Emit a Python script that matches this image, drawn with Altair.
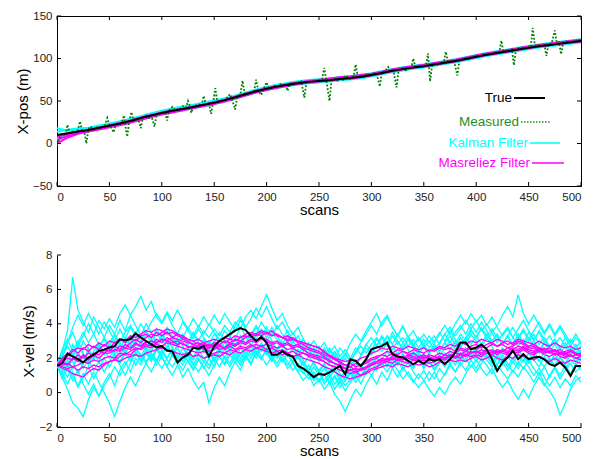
import altair as alt
import pandas as pd

# ---------------------------------------------------------------- data
SCAN5 = list(range(0, 501, 5))
SCAN10 = list(range(0, 501, 10))

# x-position (m), sampled every 10 scans
true_pos = [10, 12, 14, 16, 18.5, 21, 23.5, 26.5, 30, 33,
            36, 38.5, 40.5, 43, 45.5, 48, 51, 54.5, 58, 61.5,
            64.5, 67, 69, 71, 72.5, 73.5, 74.5, 76, 77, 78.5,
            80.5, 83, 85.5, 87.5, 89.5, 91, 93, 95, 97, 99.5,
            102, 104.5, 106.5, 108.5, 110.5, 112.5, 114.5, 116, 117.5, 119,
            120.5]

kalman_pos = [
    [18, 15, 16.5, 18, 20, 22, 25, 28, 31, 34.5,
     37.5, 40, 42, 44.5, 47, 49.5, 52, 55.5, 59, 62.5,
     65.5, 68, 70.5, 72, 73.5, 75, 76, 77, 78, 79.5,
     81.5, 84, 86.5, 89, 90.5, 92, 94, 96, 98, 100.5,
     103, 105.5, 108, 110, 111.5, 113.5, 115.5, 117.5, 118.5, 120,
     121.5],
    [6, 10.5, 13, 14.5, 17, 19.5, 22, 25, 28.5, 31.5,
     34.5, 37, 39, 41.5, 44, 46.5, 49.5, 53, 56.5, 60,
     63, 65.5, 67.5, 69.5, 71, 72, 73, 74.5, 75.5, 77,
     79, 81.5, 84, 86, 88, 89.5, 91.5, 93.5, 95.5, 98,
     100.5, 103, 105, 107, 109, 111, 113, 114.5, 116, 117.5,
     119],
    [14, 16, 17.5, 18.5, 21, 23.5, 26, 29, 32, 35.5,
     38.5, 41, 43.5, 45.5, 48, 50.5, 53, 56.5, 60, 63.5,
     66.5, 69, 71, 73, 74.5, 75.5, 76.5, 78, 79, 80.5,
     82.5, 85, 87.5, 89.5, 91.5, 93, 95, 97, 99, 101.5,
     104, 106.5, 108.5, 110.5, 112.5, 114.5, 116.5, 118, 119.5, 121,
     122.5],
]

masreliez_pos = [
    [4, 9, 12.5, 15, 17.5, 20, 22.5, 25.5, 29, 32,
     35, 37.5, 40, 42.5, 45, 47.5, 50.5, 54, 57.5, 61,
     64, 66.5, 69, 71, 72.5, 74, 75.5, 77, 78, 79.5,
     81.5, 84, 86.5, 88.5, 90.5, 92, 94, 96, 98, 100.5,
     103, 105.5, 107.5, 109.5, 111.5, 113.5, 115.5, 117, 118.5, 120,
     121.5],
    [0, 7, 11.5, 14, 16.5, 19, 21.5, 24.5, 28, 31,
     34, 36.5, 39, 41.5, 44, 46.5, 49.5, 53, 56.5, 60,
     63, 65.5, 68, 70, 71.5, 73, 74, 75.5, 76.5, 78,
     80, 82.5, 85, 87, 89, 90.5, 92.5, 94.5, 96.5, 99,
     101.5, 104, 106, 108, 110, 112, 114, 115.5, 117, 118.5,
     120],
    [8, 11, 13.5, 16, 18.5, 21.5, 24, 27, 30.5, 33.5,
     36.5, 39, 41, 43.5, 46, 48.5, 51.5, 55, 58.5, 62,
     65, 67.5, 70, 72, 73.5, 75, 76.5, 78, 79, 80.5,
     82, 84.5, 87, 89, 91, 92.5, 94.5, 96.5, 98.5, 101,
     103.5, 106, 108, 110, 112, 114, 116, 117.5, 119, 120.5,
     122],
]

# measured x-position (m) with its scan numbers
measured_scan = [0, 3, 5, 8, 10, 12, 15, 18, 20, 22, 24, 26, 28, 30, 32, 35, 38, 40, 43, 45,
                 48, 50, 52, 54, 56, 60, 62, 64, 65, 67, 69, 71, 73, 75, 78, 80, 82, 85, 88, 90,
                 93, 95, 98, 100, 103, 105, 107, 110, 113, 115, 118, 120, 123, 125, 127, 128, 130, 133, 136, 138,
                 140, 142, 145, 147, 149, 151, 153, 155, 158, 160, 163, 165, 167, 170, 172, 175, 177, 179, 182, 185,
                 188, 190, 192, 195, 197, 200, 202, 205, 208, 210, 213, 215, 218, 220, 222, 225, 228, 230, 233, 236,
                 238, 240, 243, 245, 248, 250, 253, 255, 257, 260, 262, 265, 268, 270, 273, 275, 278, 280, 283, 285,
                 287, 290, 293, 295, 298, 300, 303, 305, 308, 310, 313, 316, 318, 321, 324, 326, 330, 333, 336, 338,
                 340, 342, 345, 348, 350, 352, 354, 356, 358, 361, 364, 367, 369, 371, 373, 376, 379, 382, 384, 387,
                 390, 393, 396, 399, 402, 405, 408, 411, 414, 417, 420, 422, 424, 426, 429, 432, 434, 436, 438, 441,
                 444, 447, 450, 452, 454, 456, 459, 462, 465, 467, 469, 472, 475, 477, 479, 481, 483, 486, 489, 492,
                 495, 497, 500]
measured_pos = [-2, 8, 12, 9, 22, 12, 14, 12, 16, 26, 14, 15, 0, 17, 20, 16, 19, 18, 20, 19,
                30, 21, 18, 13, 22, 23, 26, 33, 22, 8, 27, 37, 27, 29, 27, 18, 31, 33, 30, 33,
                20, 34, 36, 35, 38, 27, 39, 43, 39, 40, 41, 44, 42, 50, 43, 36, 43, 45, 46, 44,
                56, 46, 47, 35, 48, 65, 49, 50, 49, 51, 55, 58, 52, 40, 55, 58, 74, 59, 58, 60,
                61, 75, 62, 57, 64, 72, 65, 66, 68, 67, 70, 68, 70, 62, 70, 72, 70, 71, 73, 54,
                72, 73, 72, 74, 73, 74, 76, 89, 74, 50, 75, 76, 74, 77, 75, 80, 77, 76, 79, 93,
                78, 80, 78, 82, 79, 81, 83, 82, 67, 84, 85, 90, 85, 86, 66, 87, 88, 86, 90, 89,
                100, 90, 91, 90, 92, 91, 106, 73, 93, 94, 92, 96, 95, 108, 96, 97, 96, 80, 98, 99,
                101, 99, 103, 102, 104, 103, 106, 104, 107, 106, 108, 107, 121, 108, 110, 109, 111, 92, 111, 112,
                113, 112, 114, 113, 136, 115, 116, 115, 117, 103, 117, 118, 133, 118, 119, 105, 119, 120, 119, 121,
                120, 122, 121]

# x-velocity (m/s), every 5 scans
true_vel = [1.55, 1.7, 2.27, 2.1, 1.94, 1.75, 2.04, 2.2, 2.43, 2.5,
            2.62, 2.7, 3.1, 3.05, 3.1, 3.44, 3.2, 3.0, 2.8, 2.62,
            2.7, 2.43, 2.4, 1.75, 2.04, 2.2, 2.6, 2.55, 2.7, 2.1,
            2.7, 3.0, 3.2, 3.4, 3.6, 3.75, 3.63, 3.3, 3.0, 3.24,
            2.9, 2.2, 2.2, 2.4, 2.2, 2.1, 1.55, 1.4, 1.17, 0.9,
            1.1, 1.03, 1.17, 1.36, 1.55, 1.07, 1.94, 1.85, 1.55, 1.94,
            2.52, 2.62, 2.7, 2.9, 2.23, 2.1, 2.04, 1.85, 1.65, 1.85,
            1.69, 1.94, 1.85, 1.94, 1.65, 1.94, 2.33, 2.91, 2.91, 2.52,
            2.62, 2.8, 2.52, 1.94, 1.26, 1.75, 2.04, 2.43, 1.94, 2.23,
            1.94, 2.04, 2.08, 1.94, 1.65, 1.55, 1.75, 1.46, 0.97, 1.55,
            1.55]

kalman_vel = [
    [1.6, 2.4, 3.6, 6.7, 4.8, 4.1, 3.5, 4.4, 3.8, 3.2,
     3.9, 3.4, 4.2, 3.6, 4.5, 3.9, 3.3, 4.0, 3.5, 2.8,
     3.4, 2.9, 2.2, 2.8, 3.3, 2.6, 2.0, 2.7, 3.1, 2.4,
     2.9, 3.5, 3.0, 2.4, 3.1, 3.8, 3.3, 2.7, 3.4, 4.1,
     3.6, 3.0, 2.4, 2.9, 2.2, 1.8, 2.5, 1.9, 1.3, 1.8,
     1.2, 1.6, 0.9, 1.4, 0.8, 1.3, 1.9, 1.4, 2.2, 2.8,
     2.4, 3.1, 2.7, 3.3, 2.8, 2.2, 2.9, 2.5, 1.9, 2.4,
     1.8, 2.3, 2.7, 2.1, 2.6, 3.0, 2.5, 3.2, 2.8, 3.4,
     3.0, 2.6, 3.2, 2.7, 2.1, 2.6, 2.2, 2.9, 3.3, 2.8,
     3.2, 2.7, 2.3, 2.9, 2.5, 1.9, 2.4, 2.0, 2.6, 2.2,
     2.5],
    [1.6, 0.9, 0.2, -0.6, -0.9, -1.4, -0.4, 0.3, -0.2, 0.6,
     1.1, 0.4, 1.3, 1.8, 1.2, 2.0, 1.6, 2.3, 1.8, 2.5,
     2.1, 1.5, 2.2, 1.8, 1.3, 1.9, 1.4, 2.0, 1.5, 1.0,
     1.6, 2.2, 1.7, 2.4, 1.9, 2.6, 2.2, 1.7, 2.3, 2.8,
     2.4, 1.9, 2.5, 2.0, 1.6, 2.1, 1.5, 1.1, 1.6, 1.0,
     0.6, 1.1, 0.5, 0.9, 0.3, 0.7, 1.2, 0.8, 1.5, 1.1,
     1.7, 1.3, 1.9, 2.4, 2.0, 1.6, 2.2, 1.8, 1.4, 2.0,
     1.5, 1.9, 1.4, 1.8, 2.3, 1.9, 2.4, 2.0, 2.6, 2.2,
     1.8, 2.3, 1.9, 1.5, 2.0, 1.6, 2.1, 1.7, 2.2, 1.8,
     2.3, 1.9, 1.5, 2.1, 1.7, 2.2, 1.8, 1.4, 1.9, 1.6,
     1.9],
    [1.6, 2.0, 2.9, 3.5, 2.7, 3.3, 4.0, 3.4, 4.2, 3.7,
     4.3, 3.8, 4.6, 5.1, 4.5, 5.0, 5.6, 4.8, 5.3, 4.4,
     4.0, 4.6, 3.9, 3.4, 4.1, 3.6, 3.1, 3.7, 3.2, 2.8,
     3.4, 3.0, 3.6, 3.2, 3.9, 4.4, 3.8, 4.3, 4.9, 4.4,
     5.0, 4.3, 3.7, 4.1, 3.5, 2.9, 3.3, 2.7, 2.2, 2.6,
     2.1, 2.6, 2.0, 2.4, 1.9, 2.3, 1.8, 2.4, 2.9, 3.4,
     3.9, 3.4, 4.1, 4.5, 3.8, 3.3, 3.9, 3.2, 2.7, 3.2,
     2.6, 3.0, 2.5, 2.9, 3.4, 2.9, 3.5, 3.9, 3.4, 4.0,
     3.5, 4.1, 3.6, 3.0, 3.4, 2.8, 3.3, 2.7, 3.1, 3.6,
     3.0, 3.4, 2.8, 3.2, 2.7, 3.1, 2.5, 2.9, 2.4, 2.8,
     2.3],
    [1.6, 1.2, 1.9, 1.4, 2.3, 1.7, 2.6, 2.0, 2.8, 2.2,
     2.7, 2.1, 2.9, 2.4, 3.2, 2.6, 2.1, 2.7, 2.2, 1.6,
     2.1, 1.5, 1.0, 1.6, 0.9, 1.4, 0.7, 0.2, 0.6, -0.6,
     0.3, 0.9, 0.4, 1.2, 1.8, 1.3, 2.1, 1.6, 2.4, 1.9,
     2.6, 2.0, 2.5, 1.8, 2.3, 1.7, 1.2, 1.8, 1.3, 0.7,
     1.2, 0.5, 0.9, 0.2, 0.7, 0.1, 0.6, 1.1, 0.5, 1.2,
     1.6, 2.1, 1.5, 2.0, 1.4, 1.9, 1.3, 1.8, 1.2, 0.8,
     1.3, 0.7, 1.2, 0.6, 1.1, 1.7, 1.2, 1.8, 2.3, 1.9,
     2.5, 2.0, 2.6, 2.1, 1.6, 2.2, 1.7, 1.2, 1.8, 1.4,
     1.9, 1.4, 1.0, 1.5, 0.9, 1.4, 0.8, 1.3, 1.7, 1.2,
     1.5],
    [1.6, 2.2, 1.5, 2.8, 2.1, 3.0, 2.5, 1.9, 2.7, 3.1,
     2.5, 3.0, 2.4, 3.2, 2.7, 3.5, 3.0, 3.6, 3.1, 3.7,
     3.2, 3.8, 3.3, 2.8, 3.4, 2.9, 3.5, 3.0, 3.6, 3.2,
     3.7, 3.3, 3.9, 3.5, 4.1, 3.7, 4.4, 4.8, 4.3, 5.0,
     5.7, 4.9, 4.2, 4.6, 3.9, 3.4, 3.8, 3.1, 2.6, 3.0,
     2.5, 2.9, 2.3, 2.7, 2.1, 2.5, 2.0, 2.6, 2.2, 2.8,
     3.2, 2.7, 3.3, 2.9, 3.5, 3.0, 2.5, 3.1, 2.6, 2.2,
     2.7, 2.2, 2.8, 2.4, 2.9, 3.3, 2.8, 3.4, 3.0, 3.6,
     3.2, 3.7, 3.1, 3.5, 2.9, 3.4, 3.8, 3.2, 3.7, 4.2,
     3.6, 3.1, 3.5, 2.9, 3.3, 2.8, 3.2, 2.7, 3.1, 2.6,
     3.0],
    [1.6, 1.4, 2.3, 1.8, 1.1, 1.7, 2.4, 1.9, 2.6, 3.2,
     2.7, 3.3, 2.8, 2.2, 2.9, 2.4, 3.0, 2.5, 3.1, 2.6,
     2.2, 2.7, 2.1, 2.6, 2.0, 2.5, 2.9, 2.4, 2.8, 2.3,
     1.8, 2.4, 2.0, 2.6, 2.1, 1.6, 2.2, 1.7, 2.3, 2.0,
     2.5, 2.0, 1.5, 2.0, 1.4, 1.8, 1.2, 0.7, 1.1, 0.4,
     0.8, 0.2, 0.6, -0.1, -0.5, -1.1, -0.4, 0.2, -0.2, 0.5,
     1.0, 0.5, 1.2, 0.7, 1.4, 0.9, 1.5, 1.0, 0.6, 1.1,
     0.7, 1.2, 0.8, 1.4, 1.0, 1.6, 1.2, 1.7, 1.3, 1.9,
     1.4, 2.0, 1.6, 1.1, 1.6, 1.2, 0.8, 1.3, 0.9, 1.5,
     1.1, 0.6, 1.2, 0.5, 0.1, -0.4, -1.3, -0.6, 0.2, 0.7,
     0.9],
    [1.6, 1.9, 1.3, 2.0, 2.7, 2.2, 1.6, 2.3, 1.8, 2.5,
     2.0, 2.6, 2.1, 2.8, 3.3, 2.8, 3.4, 2.9, 2.4, 3.0,
     2.5, 3.1, 2.6, 3.2, 2.7, 2.2, 2.8, 2.3, 2.9, 2.5,
     3.0, 2.5, 3.1, 2.6, 3.2, 2.7, 3.3, 2.8, 2.3, 2.9,
     2.4, 3.0, 2.5, 3.1, 3.6, 3.0, 2.6, 3.1, 2.5, 2.0,
     2.4, 1.9, 2.5, 2.0, 2.6, 2.2, 2.9, 3.4, 3.0, 3.6,
     4.1, 4.6, 3.9, 4.4, 3.8, 3.3, 3.8, 3.2, 3.6, 3.0,
     3.4, 2.9, 3.3, 2.8, 3.4, 3.8, 3.3, 3.7, 4.2, 3.7,
     4.2, 3.6, 4.0, 3.5, 3.9, 4.5, 5.0, 4.4, 5.7, 4.6,
     4.0, 4.5, 3.9, 3.4, 3.9, 3.3, 3.8, 3.2, 2.7, 3.2,
     2.8],
    [1.6, 1.1, 0.5, 1.2, 0.3, 0.9, 1.5, 0.8, 1.4, 2.0,
     1.5, 2.1, 1.6, 1.0, 1.7, 2.3, 1.8, 2.4, 1.9, 2.5,
     2.0, 1.6, 2.2, 1.7, 2.3, 1.8, 1.3, 1.9, 1.4, 2.0,
     1.5, 2.1, 1.6, 2.2, 1.7, 2.3, 1.9, 2.5, 2.0, 2.6,
     2.2, 2.7, 2.2, 1.8, 2.3, 1.7, 2.1, 1.6, 1.0, 1.5,
     1.0, 1.4, 0.9, 1.3, 0.7, 1.2, 0.6, 1.0, 1.5, 1.1,
     1.6, 2.0, 1.5, 2.1, 1.7, 2.2, 1.6, 2.0, 1.5, 1.9,
     1.4, 1.8, 1.3, 1.7, 2.2, 1.7, 2.1, 1.6, 2.0, 1.5,
     1.9, 1.4, 1.0, 1.4, 0.8, 0.3, 0.7, 0.1, -0.4, 0.2,
     -0.3, 0.4, 0.9, 0.4, 1.0, 1.5, 1.0, 1.6, 1.1, 1.7,
     1.3],
    [1.6, 2.5, 3.1, 2.4, 3.0, 2.3, 1.7, 2.4, 2.9, 2.3,
     2.9, 3.4, 2.9, 3.5, 3.9, 3.4, 4.0, 3.5, 4.1, 4.6,
     4.1, 4.7, 4.2, 4.8, 4.2, 3.7, 4.3, 3.8, 4.4, 3.9,
     4.5, 4.0, 4.6, 4.1, 3.6, 4.2, 3.7, 3.2, 3.8, 3.3,
     3.8, 3.3, 3.9, 3.4, 3.0, 3.5, 2.9, 2.4, 2.9, 2.3,
     2.7, 2.2, 2.6, 2.1, 1.7, 2.2, 1.8, 2.3, 2.7, 2.3,
     2.8, 3.2, 2.7, 3.3, 2.8, 3.4, 2.9, 3.3, 2.8, 2.4,
     2.8, 2.3, 2.8, 2.4, 2.9, 2.5, 3.0, 2.6, 3.2, 3.7,
     3.2, 3.8, 3.3, 3.7, 3.2, 2.8, 3.3, 2.8, 3.4, 2.9,
     3.5, 3.0, 3.6, 3.1, 2.6, 3.1, 2.6, 3.2, 2.7, 2.3,
     2.7],
    [1.6, 1.0, 1.6, 0.9, 0.4, 1.1, 0.5, 1.2, 0.6, 0.0,
     -0.6, -1.4, -0.5, 0.3, 0.9, 0.4, 1.1, 1.7, 1.2, 1.9,
     1.4, 2.0, 2.5, 2.0, 2.6, 2.1, 1.6, 2.2, 1.8, 2.4,
     1.9, 2.5, 2.0, 1.5, 2.1, 1.6, 2.2, 2.7, 2.2, 2.8,
     2.3, 1.8, 2.4, 2.9, 2.3, 1.8, 2.2, 1.7, 1.3, 1.7,
     1.2, 0.7, 1.1, 0.5, 0.9, 0.4, 0.8, 1.3, 0.9, 1.4,
     1.0, 1.5, 2.0, 1.5, 2.1, 1.6, 2.2, 1.7, 2.3, 1.8,
     2.3, 1.8, 1.4, 1.9, 1.5, 2.1, 1.6, 2.2, 1.8, 2.4,
     2.0, 2.5, 2.1, 1.7, 2.2, 1.8, 2.3, 1.9, 2.5, 2.1,
     1.7, 2.2, 1.8, 2.4, 1.9, 1.5, 2.0, 1.6, 2.2, 1.8,
     2.2],
    [1.6, 2.1, 2.7, 2.2, 2.9, 3.5, 2.9, 3.4, 2.8, 2.2,
     2.8, 2.2, 1.7, 2.3, 1.8, 2.4, 1.9, 2.5, 2.0, 2.6,
     3.1, 2.6, 3.2, 2.7, 3.3, 2.8, 3.4, 2.9, 2.4, 3.0,
     2.5, 3.1, 2.6, 3.2, 2.7, 3.3, 2.8, 3.4, 3.9, 3.4,
     3.0, 3.5, 3.1, 2.6, 3.0, 2.5, 2.9, 2.4, 2.8, 2.3,
     1.8, 2.2, 1.7, 2.1, 1.6, 2.0, 1.5, 1.9, 1.4, 1.9,
     2.3, 2.8, 2.4, 2.9, 2.5, 3.0, 2.6, 3.1, 2.7, 3.2,
     2.8, 3.3, 2.9, 3.4, 3.9, 3.4, 4.0, 4.5, 4.0, 4.6,
     4.1, 4.5, 3.9, 4.4, 3.8, 3.3, 3.7, 3.2, 2.7, 3.1,
     2.6, 3.0, 2.5, 2.9, 2.4, 2.8, 2.3, 2.7, 2.2, 2.6,
     2.3],
    [1.6, 0.8, 1.4, 0.7, 1.3, 0.5, -0.1, 0.5, -0.2, 0.4,
     0.9, 1.5, 1.0, 1.6, 2.1, 1.6, 2.2, 1.7, 2.3, 1.8,
     2.4, 1.9, 1.5, 2.0, 1.6, 2.2, 1.7, 1.2, 1.8, 1.4,
     2.0, 1.5, 2.1, 1.7, 2.3, 1.8, 2.4, 2.0, 2.6, 2.1,
     1.6, 2.1, 1.7, 2.2, 1.8, 1.3, 1.7, 1.2, 0.8, 1.2,
     0.7, 1.1, 0.6, 1.0, 0.5, 0.9, 1.4, 1.0, 1.5, 2.0,
     1.6, 2.1, 1.6, 1.2, 1.7, 1.3, 0.8, 1.2, 0.7, 0.3,
     0.7, 0.2, -0.2, 0.3, -0.1, 0.5, 0.9, 0.5, 1.1, 1.6,
     1.2, 1.7, 2.2, 1.7, 2.2, 1.8, 1.3, 1.8, 1.4, 1.9,
     1.5, 1.0, 1.4, 0.9, 0.4, 0.9, 0.3, 0.8, 0.4, 1.0,
     0.6],
    [1.6, 2.3, 2.9, 3.8, 4.5, 3.9, 4.6, 4.0, 3.4, 4.1,
     3.6, 3.0, 3.7, 3.1, 3.8, 3.3, 2.8, 3.4, 2.9, 3.5,
     3.0, 3.6, 3.1, 2.6, 3.2, 3.8, 3.3, 3.9, 3.4, 4.0,
     3.5, 3.1, 2.6, 3.2, 2.7, 3.3, 2.8, 3.5, 3.1, 3.7,
     3.2, 3.8, 3.3, 2.8, 3.3, 2.7, 2.2, 2.7, 2.1, 2.6,
     2.0, 2.5, 1.9, 2.3, 1.8, 1.4, 1.9, 1.5, 2.1, 2.6,
     2.2, 2.7, 3.2, 2.7, 3.3, 2.8, 3.2, 2.7, 3.1, 2.6,
     3.1, 2.6, 3.0, 3.5, 3.0, 3.6, 3.1, 2.7, 3.2, 2.8,
     3.3, 2.8, 3.4, 2.9, 3.4, 2.8, 3.3, 3.8, 3.2, 3.7,
     3.1, 3.6, 4.1, 3.5, 4.0, 3.4, 3.9, 3.4, 2.9, 3.4,
     2.9],
    [1.6, 1.5, 0.9, 1.5, 2.0, 1.4, 1.9, 1.3, 1.8, 1.2,
     1.8, 2.3, 1.8, 2.4, 2.0, 2.6, 2.2, 1.8, 2.3, 1.9,
     2.5, 2.0, 2.6, 2.2, 1.8, 2.3, 1.9, 2.5, 2.0, 1.6,
     2.1, 2.7, 2.3, 2.9, 2.5, 2.0, 2.6, 2.2, 2.8, 2.4,
     3.0, 2.5, 2.0, 2.5, 2.1, 2.6, 2.0, 1.6, 2.1, 1.7,
     1.3, 1.7, 1.2, 1.6, 1.1, 0.7, 1.1, 0.6, 1.0, 1.5,
     1.9, 1.5, 2.0, 1.6, 2.2, 1.7, 2.3, 1.8, 2.4, 2.0,
     1.6, 2.1, 1.7, 2.2, 1.8, 2.4, 2.0, 2.6, 2.1, 2.7,
     2.3, 2.8, 2.4, 2.0, 2.5, 2.0, 1.5, 2.0, 1.6, 2.2,
     1.8, 2.4, 1.9, 1.5, 2.0, 1.6, 2.1, 1.7, 2.3, 1.8,
     2.0],
]

masreliez_vel = [
    [1.6, 1.9, 2.2, 2.5, 2.3, 2.6, 2.4, 2.7, 2.5, 2.8,
     2.6, 2.9, 3.1, 2.9, 3.2, 3.0, 3.3, 3.4, 3.2, 3.5,
     3.3, 3.5, 3.2, 3.4, 3.1, 3.0, 2.8, 2.9, 2.7, 2.8,
     2.6, 2.8, 2.5, 2.7, 2.5, 2.7, 2.6, 2.8, 2.6, 2.7,
     2.5, 2.6, 2.4, 2.5, 2.3, 2.4, 2.2, 2.3, 2.1, 2.0,
     1.9, 1.8, 1.6, 1.5, 1.3, 1.2, 1.1, 1.2, 1.0, 1.2,
     1.4, 1.5, 1.7, 1.8, 1.7, 1.9, 1.8, 1.7, 1.9, 1.8,
     1.9, 1.7, 1.8, 2.0, 1.9, 2.1, 2.0, 2.2, 2.1, 2.3,
     2.4, 2.2, 2.4, 2.5, 2.3, 2.5, 2.4, 2.6, 2.5, 2.7,
     2.5, 2.6, 2.4, 2.5, 2.3, 2.4, 2.2, 2.3, 2.1, 2.2,
     2.1],
    [1.6, 1.4, 1.3, 1.1, 1.0, 0.9, 1.2, 1.4, 1.3, 1.6,
     1.8, 1.9, 2.1, 2.3, 2.2, 2.5, 2.6, 2.8, 2.7, 2.9,
     3.1, 3.0, 3.2, 3.1, 3.0, 2.9, 2.8, 2.7, 2.8, 2.6,
     2.8, 3.0, 2.9, 3.1, 3.0, 3.2, 3.3, 3.2, 3.4, 3.3,
     3.5, 3.3, 3.4, 3.2, 3.1, 3.2, 3.0, 2.9, 2.8, 2.7,
     2.6, 2.4, 2.1, 2.0, 1.7, 1.6, 1.5, 1.7, 1.6, 1.8,
     2.0, 2.1, 2.2, 2.4, 2.3, 2.5, 2.4, 2.3, 2.5, 2.4,
     2.3, 2.5, 2.4, 2.6, 2.5, 2.6, 2.4, 2.6, 2.5, 2.7,
     2.8, 2.6, 2.8, 2.9, 2.7, 2.8, 2.6, 2.7, 2.9, 2.8,
     2.6, 2.7, 2.5, 2.6, 2.4, 2.5, 2.3, 2.4, 2.5, 2.3,
     2.2],
    [1.6, 1.8, 2.0, 1.9, 2.2, 2.0, 2.3, 2.1, 2.4, 2.3,
     2.5, 2.4, 2.7, 2.6, 2.9, 3.1, 2.9, 3.2, 3.4, 3.3,
     3.5, 3.7, 3.6, 3.4, 3.3, 3.1, 3.0, 2.8, 2.9, 2.7,
     2.9, 2.8, 3.0, 2.9, 3.1, 3.0, 3.2, 3.4, 3.3, 3.5,
     3.4, 3.6, 3.3, 3.2, 3.0, 3.1, 2.9, 2.8, 2.6, 2.5,
     2.4, 2.2, 2.1, 1.9, 1.8, 1.6, 1.7, 1.5, 1.6, 1.7,
     1.9, 2.0, 2.2, 2.1, 2.3, 2.2, 2.4, 2.2, 2.3, 2.1,
     2.2, 2.0, 2.1, 2.3, 2.2, 2.4, 2.3, 2.5, 2.4, 2.6,
     2.5, 2.7, 2.6, 2.8, 2.7, 2.9, 3.0, 2.8, 3.0, 2.9,
     2.7, 2.8, 2.6, 2.5, 2.6, 2.4, 2.5, 2.3, 2.4, 2.2,
     2.3],
    [1.6, 1.5, 1.4, 1.5, 1.3, 1.5, 1.4, 1.6, 1.5, 1.7,
     1.8, 1.9, 1.8, 2.0, 2.1, 2.2, 2.1, 2.3, 2.4, 2.5,
     2.6, 2.5, 2.4, 2.3, 2.2, 2.3, 2.1, 2.2, 2.0, 2.1,
     2.2, 2.1, 2.3, 2.2, 2.4, 2.3, 2.5, 2.4, 2.6, 2.5,
     2.4, 2.3, 2.4, 2.2, 2.3, 2.1, 2.2, 2.0, 1.9, 1.8,
     1.7, 1.5, 1.4, 1.2, 1.0, 0.9, 0.8, 0.9, 1.0, 1.1,
     1.3, 1.4, 1.5, 1.6, 1.5, 1.7, 1.6, 1.5, 1.7, 1.6,
     1.7, 1.5, 1.6, 1.8, 1.7, 1.9, 1.8, 1.9, 1.8, 2.0,
     2.1, 1.9, 2.0, 2.2, 2.0, 1.9, 2.1, 2.0, 2.2, 2.1,
     2.0, 1.9, 2.1, 1.9, 1.8, 2.0, 1.8, 1.7, 1.9, 1.8,
     1.7],
    [1.6, 2.0, 2.3, 2.1, 1.9, 2.2, 2.0, 2.3, 2.2, 2.5,
     2.4, 2.7, 2.5, 2.8, 2.6, 2.9, 2.7, 3.0, 2.8, 3.1,
     2.9, 3.2, 3.0, 2.8, 2.9, 2.6, 2.7, 2.5, 2.6, 2.4,
     2.5, 2.7, 2.6, 2.9, 2.8, 3.0, 2.9, 3.1, 3.0, 3.2,
     3.1, 2.9, 3.0, 2.8, 2.9, 2.7, 2.8, 2.6, 2.5, 2.4,
     2.3, 2.1, 1.9, 1.7, 1.6, 1.4, 1.5, 1.3, 1.4, 1.5,
     1.6, 1.8, 1.9, 1.8, 2.0, 1.9, 2.1, 2.0, 1.9, 2.1,
     2.0, 2.2, 2.1, 2.0, 2.2, 2.1, 2.3, 2.2, 2.4, 2.3,
     2.4, 2.3, 2.5, 2.4, 2.2, 2.4, 2.3, 2.5, 2.4, 2.6,
     2.4, 2.3, 2.5, 2.3, 2.4, 2.2, 2.3, 2.1, 2.2, 2.0,
     2.1],
    [1.6, 1.9, 2.1, 2.4, 2.6, 2.5, 2.8, 2.6, 2.9, 2.7,
     3.0, 2.9, 3.1, 3.0, 3.3, 3.2, 3.4, 3.6, 3.5, 3.7,
     3.6, 3.4, 3.5, 3.3, 3.2, 3.1, 3.0, 3.1, 2.9, 3.0,
     3.1, 3.0, 3.2, 3.1, 3.3, 3.2, 3.4, 3.5, 3.4, 3.6,
     3.5, 3.3, 3.4, 3.2, 3.3, 3.1, 3.0, 2.9, 2.8, 2.7,
     2.6, 2.3, 2.2, 2.0, 1.9, 1.8, 1.9, 1.8, 2.0, 2.1,
     2.3, 2.4, 2.6, 2.5, 2.7, 2.6, 2.5, 2.7, 2.6, 2.5,
     2.6, 2.4, 2.5, 2.7, 2.6, 2.8, 2.7, 2.9, 2.8, 3.0,
     2.9, 3.1, 3.0, 2.9, 3.1, 3.0, 2.8, 2.9, 3.1, 3.0,
     2.9, 2.8, 3.0, 2.8, 2.7, 2.9, 2.7, 2.6, 2.7, 2.5,
     2.6],
    [1.6, 1.6, 1.7, 1.5, 1.6, 1.8, 1.7, 1.9, 1.8, 2.0,
     2.1, 2.0, 2.3, 2.2, 2.4, 2.6, 2.5, 2.7, 2.6, 2.8,
     2.7, 2.9, 2.8, 2.7, 2.6, 2.5, 2.4, 2.3, 2.4, 2.2,
     2.3, 2.4, 2.3, 2.5, 2.4, 2.6, 2.5, 2.7, 2.8, 2.7,
     2.8, 2.7, 2.6, 2.7, 2.5, 2.6, 2.4, 2.3, 2.2, 2.1,
     2.0, 1.8, 1.6, 1.5, 1.3, 1.2, 1.3, 1.2, 1.3, 1.4,
     1.6, 1.7, 1.8, 2.0, 1.9, 2.1, 2.0, 2.2, 2.1, 2.0,
     2.1, 1.9, 2.0, 2.1, 2.0, 2.2, 2.1, 2.0, 2.2, 2.1,
     2.2, 2.1, 2.3, 2.2, 2.4, 2.3, 2.2, 2.4, 2.3, 2.5,
     2.3, 2.2, 2.4, 2.2, 2.1, 2.3, 2.1, 2.0, 2.2, 2.0,
     1.9],
    [1.6, 1.8, 1.6, 2.0, 1.8, 2.1, 1.9, 2.2, 2.0, 2.3,
     2.3, 2.5, 2.4, 2.6, 2.5, 2.8, 2.7, 2.9, 3.0, 2.9,
     3.1, 3.0, 2.9, 3.0, 2.8, 2.7, 2.6, 2.7, 2.5, 2.6,
     2.7, 2.5, 2.6, 2.8, 2.7, 2.9, 2.8, 3.0, 2.9, 3.1,
     3.0, 2.8, 2.9, 2.7, 2.8, 2.6, 2.7, 2.5, 2.3, 2.2,
     2.1, 2.0, 1.8, 1.7, 1.5, 1.4, 1.3, 1.4, 1.3, 1.5,
     1.7, 1.8, 2.0, 1.9, 2.1, 2.0, 1.9, 2.1, 2.0, 1.9,
     2.0, 2.1, 1.9, 2.1, 2.0, 2.2, 2.1, 2.3, 2.2, 2.4,
     2.3, 2.5, 2.4, 2.3, 2.5, 2.4, 2.6, 2.5, 2.7, 2.6,
     2.5, 2.4, 2.6, 2.4, 2.3, 2.5, 2.3, 2.2, 2.4, 2.2,
     2.1],
]

# axis tick values
X_TICKS = [0, 50, 100, 150, 200, 250, 300, 350, 400, 450, 500]
POS_TICKS = [-50, 0, 50, 100, 150]
VEL_TICKS = [-2, 0, 2, 4, 6, 8]

# ---------------------------------------------------------------- tables
def series_frame(scans, values, run):
    if len(scans) != len(values):
        raise ValueError(f"{run}: {len(values)} values for {len(scans)} scans")
    return pd.DataFrame({"scan": scans, "value": values, "run": run})


def runs_frame(runs, scans, prefix):
    return pd.concat(
        [series_frame(scans, vals, f"{prefix}{i}") for i, vals in enumerate(runs)],
        ignore_index=True,
    )


pos_true_df = series_frame(SCAN10, true_pos, "true")
pos_meas_df = series_frame(measured_scan, measured_pos, "measured")
pos_kal_df = runs_frame(kalman_pos, SCAN10, "k")
pos_mas_df = runs_frame(masreliez_pos, SCAN10, "m")

vel_true_df = series_frame(SCAN5, true_vel, "true")
vel_kal_df = runs_frame(kalman_vel, SCAN5, "k")
vel_mas_df = runs_frame(masreliez_vel, SCAN5, "m")

# ---------------------------------------------------------------- style
W, H_TOP, H_BOT = 524, 170, 172
FONT = "Liberation Sans"
CYAN, MAGENTA, GREEN, BLACK = "#00FFFF", "#FF00FF", "#008000", "#000000"
TICK = 4

xe = alt.X(
    "scan:Q",
    scale=alt.Scale(domain=[0, 500], nice=False),
    axis=alt.Axis(values=X_TICKS, title="scans", format="d"),
)


def y_enc(domain, ticks, title):
    return alt.Y(
        "value:Q",
        scale=alt.Scale(domain=domain, nice=False, zero=False),
        axis=alt.Axis(values=ticks, title=title, format="d"),
    )


def line_layer(df, ye, color, width, dash=None):
    kw = dict(color=color, strokeWidth=width, clip=True)
    if dash:
        kw["strokeDash"] = dash
    return alt.Chart(df).mark_line(**kw).encode(x=xe, y=ye, detail="run:N")


def inward_ticks(ye, yticks, height, box):
    """Short tick marks drawn just inside the plot frame."""
    xt = pd.DataFrame({"scan": X_TICKS})
    yt = pd.DataFrame({"value": yticks})
    rule = dict(color=BLACK, strokeWidth=1)
    layers = [
        alt.Chart(xt).mark_rule(**rule).encode(
            x=xe, y=alt.value(height), y2=alt.value(height - TICK)),
        alt.Chart(yt).mark_rule(**rule).encode(
            y=ye, x=alt.value(0), x2=alt.value(TICK)),
    ]
    if box:
        layers += [
            alt.Chart(xt).mark_rule(**rule).encode(
                x=xe, y=alt.value(0), y2=alt.value(TICK)),
            alt.Chart(yt).mark_rule(**rule).encode(
                y=ye, x=alt.value(W - TICK), x2=alt.value(W)),
        ]
    return layers


one = alt.Data(values=[{}])


def legend_entry(label, color, y, text_right, line_start, line_end, dash=None):
    text = alt.Chart(one).mark_text(
        text=label, align="right", baseline="middle", font=FONT,
        fontSize=13.5, color=color,
    ).encode(x=alt.value(text_right), y=alt.value(y))
    kw = dict(color=color, strokeWidth=1.5 if color != BLACK else 2)
    if dash:
        kw["strokeDash"] = dash
    rule = alt.Chart(one).mark_rule(**kw).encode(
        x=alt.value(line_start), x2=alt.value(line_end), y=alt.value(y))
    return [text, rule]


# ---------------------------------------------------------------- top panel
ye_pos = y_enc([-50, 150], POS_TICKS, "X-pos (m)")
ye_vel = y_enc([-2, 8], VEL_TICKS, "X-vel (m/s)")

top_layers = [
    line_layer(pos_kal_df, ye_pos, CYAN, 2.2),
    line_layer(pos_mas_df, ye_pos, MAGENTA, 2.0),
    line_layer(pos_meas_df, ye_pos, GREEN, 1.8, dash=[1.8, 1.8]),
    line_layer(pos_true_df, ye_pos, BLACK, 2.0),
]
top_layers += inward_ticks(ye_pos, POS_TICKS, H_TOP, box=True)
top_layers += legend_entry("True", BLACK, 82, 455, 457, 488)
top_layers += legend_entry("Measured", "#1f8f1f", 106, 462, 464, 494, dash=[1.5, 1.5])
top_layers += legend_entry("Kalman Filter", CYAN, 127, 471, 473, 503)
top_layers += legend_entry("Masreliez Filter", MAGENTA, 147, 473, 475, 507)

top = alt.layer(*top_layers).properties(
    width=W, height=H_TOP,
    view=alt.ViewBackground(stroke=BLACK, strokeWidth=1),
)

# ---------------------------------------------------------------- bottom panel
bot_layers = [
    line_layer(vel_kal_df, ye_vel, CYAN, 1.3),
    line_layer(vel_mas_df, ye_vel, MAGENTA, 1.3),
    line_layer(vel_true_df, ye_vel, BLACK, 2.0),
]
bot_layers += inward_ticks(ye_vel, VEL_TICKS, H_BOT, box=False)

bottom = alt.layer(*bot_layers).properties(width=W, height=H_BOT)

chart = (
    alt.vconcat(top, bottom, spacing=69, bounds="flush")
    .properties(padding={"left": 14, "top": 9, "right": 8, "bottom": 0})
    .configure_view(stroke=None)
    .configure_axis(
        grid=False,
        ticks=False,
        domainColor=BLACK,
        domainWidth=1,
        labelFont=FONT,
        labelFontSize=11.5,
        labelColor="#222222",
        labelPadding=5,
        titleFont=FONT,
        titleFontSize=15,
        titleFontWeight="normal",
        titleColor=BLACK,
    )
    .configure_axisY(titlePadding=2)
    .configure_axisX(titlePadding=0)
)

chart.save("out.html", embed_options={"renderer": "svg", "actions": False})
